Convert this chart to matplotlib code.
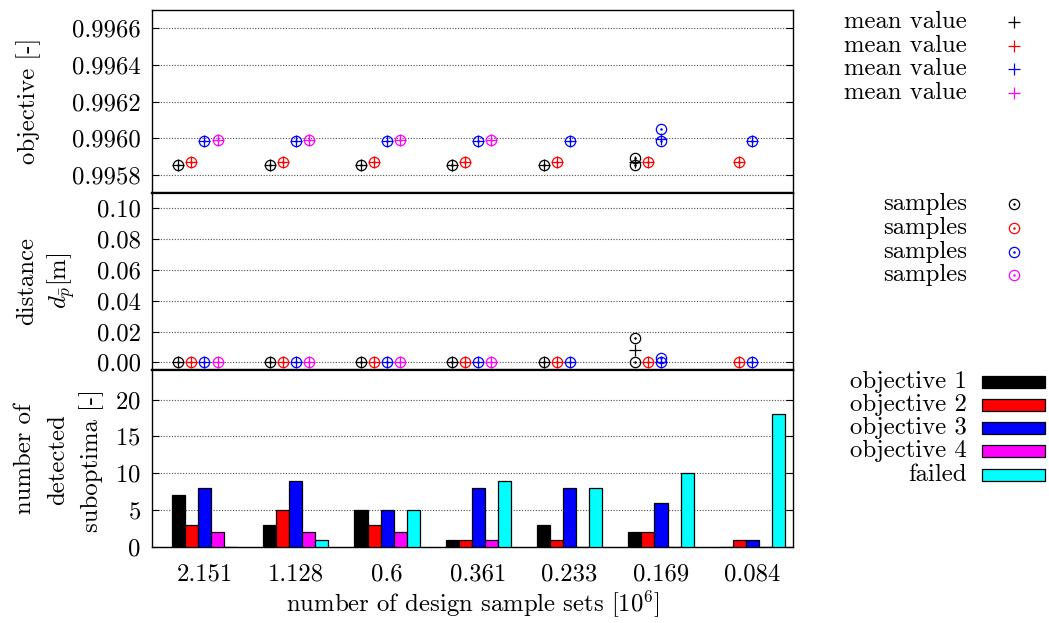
import numpy as np
import matplotlib
matplotlib.use("Agg")
import matplotlib.pyplot as plt
from matplotlib.lines import Line2D
from matplotlib.patches import Rectangle
from matplotlib.ticker import FormatStrFormatter

# ---------------- data ----------------
categories = ["2.151", "1.128", "0.6", "0.361", "0.233", "0.169", "0.084"]
series_names = ["objective 1", "objective 2", "objective 3", "objective 4", "failed"]
colors = ["#000000", "#ff0000", "#0000ff", "#ff00ff", "#00ffff"]

# number of detected suboptima per objective (last entry: failed runs)
count_obj1 = [7, 3, 5, 1, 3, 2, 0]
count_obj2 = [3, 5, 3, 1, 1, 2, 1]
count_obj3 = [8, 9, 5, 8, 8, 6, 1]
count_obj4 = [2, 2, 2, 1, 0, 0, 0]
count_failed = [0, 1, 5, 9, 8, 10, 18]

nan = np.nan
# objective value: mean per sample-set size
objmean_1 = [0.995853, 0.995853, 0.995853, 0.995853, 0.995853, 0.995872, nan]
objmean_2 = [0.995868, 0.995868, 0.995868, 0.995868, 0.995868, 0.995868, 0.995868]
objmean_3 = [0.995983, 0.995983, 0.995983, 0.995983, 0.995983, 0.995993, 0.995983]
objmean_4 = [0.995987, 0.995987, 0.995987, 0.995987, nan, nan, nan]
# objective value: individual samples (distinct values)
objsamp_1 = [[0.995853], [0.995853], [0.995853], [0.995853], [0.995853], [0.995853, 0.995892], []]
objsamp_2 = [[0.995868], [0.995868], [0.995868], [0.995868], [0.995868], [0.995868], [0.995868]]
objsamp_3 = [[0.995983], [0.995983], [0.995983], [0.995983], [0.995983], [0.995983, 0.996052], [0.995983]]
objsamp_4 = [[0.995987], [0.995987], [0.995987], [0.995987], [], [], []]

# distance d_p: mean per sample-set size
distmean_1 = [0.0, 0.0, 0.0, 0.0, 0.0, 0.0080, nan]
distmean_2 = [0.0, 0.0, 0.0, 0.0, 0.0, 0.0, 0.0]
distmean_3 = [0.0, 0.0, 0.0, 0.0, 0.0, 0.0005, 0.0]
distmean_4 = [0.0, 0.0, 0.0, 0.0, nan, nan, nan]
# distance d_p: individual samples (distinct values)
distsamp_1 = [[0.0], [0.0], [0.0], [0.0], [0.0], [0.0, 0.0161], []]
distsamp_2 = [[0.0], [0.0], [0.0], [0.0], [0.0], [0.0], [0.0]]
distsamp_3 = [[0.0], [0.0], [0.0], [0.0], [0.0], [0.0, 0.0025], [0.0]]
distsamp_4 = [[0.0], [0.0], [0.0], [0.0], [], [], []]

# ---------------- style ----------------
plt.rcParams["font.family"] = "cmr10"
plt.rcParams["mathtext.fontset"] = "cm"
plt.rcParams["axes.formatter.use_mathtext"] = True
FS = 17.8

W, H = 1049, 623
fig = plt.figure(figsize=(W / 100, H / 100), dpi=100)


def fx(px):
    return px / W


def fy(py):
    return 1 - py / H


left, right = 152, 793
ax_obj = fig.add_axes([fx(left), fy(193), fx(right - left), (193 - 10) / H])
ax_dist = fig.add_axes([fx(left), fy(370), fx(right - left), (370 - 193) / H])
ax_cnt = fig.add_axes([fx(left), fy(547), fx(right - left), (547 - 370) / H])

n_groups = len(categories)
n_series = 5
slot = 1.0 / (n_series + 2)   # 5 bars + gap of 2 per cluster
group_x = np.arange(n_groups)


def offsets(j):
    return group_x + (j - (n_series - 1) / 2) * slot


MS = 7.4
MEW = 0.9


def draw_points(ax, means, samples):
    for j, (m, s) in enumerate(zip(means, samples)):
        xs = offsets(j)
        sx = [xs[g] for g in range(n_groups) for _ in s[g]]
        sy = [v for g in range(n_groups) for v in s[g]]
        ax.plot(sx, sy, ls="none", marker="o", ms=MS, mfc="none",
                mec=colors[j], mew=MEW, zorder=3)
        ax.plot(sx, sy, ls="none", marker=".", ms=1.6, color=colors[j], zorder=3)
        ax.plot(xs, m, ls="none", marker="+", ms=MS + 0.6, mew=MEW,
                color=colors[j], zorder=4)


draw_points(ax_obj, [objmean_1, objmean_2, objmean_3, objmean_4],
            [objsamp_1, objsamp_2, objsamp_3, objsamp_4])
draw_points(ax_dist, [distmean_1, distmean_2, distmean_3, distmean_4],
            [distsamp_1, distsamp_2, distsamp_3, distsamp_4])

counts = [count_obj1, count_obj2, count_obj3, count_obj4, count_failed]
for j, c in enumerate(counts):
    ax_cnt.bar(offsets(j), c, width=slot, color=colors[j], edgecolor="black",
               linewidth=0.9, zorder=3)

xlim = (-0.575, 6.446)
for ax in (ax_obj, ax_dist, ax_cnt):
    ax.set_xlim(*xlim)
    ax.grid(axis="y", color="0.3", linestyle=(0, (1, 1.5)), linewidth=0.8, zorder=0)
    ax.set_axisbelow(True)
    ax.tick_params(axis="y", which="both", direction="in", length=5, width=0.8,
                   right=True, labelsize=FS, pad=8)
    ax.tick_params(axis="x", length=0, labelsize=FS)
    for sp in ax.spines.values():
        sp.set_linewidth(1.0)

ax_obj.set_ylim(0.9957, 0.9967)
ax_obj.set_yticks([0.9958, 0.9960, 0.9962, 0.9964, 0.9966])
ax_obj.yaxis.set_major_formatter(FormatStrFormatter("%.4f"))

ax_dist.set_ylim(-0.005, 0.11)
ax_dist.set_yticks([0.0, 0.02, 0.04, 0.06, 0.08, 0.10])
ax_dist.yaxis.set_major_formatter(FormatStrFormatter("%.2f"))

ax_cnt.set_ylim(0, 24)
ax_cnt.set_yticks([0, 5, 10, 15, 20])

ax_obj.set_xticks([])
ax_dist.set_xticks([])
ax_cnt.set_xticks(group_x)
ax_cnt.set_xticklabels(categories)
ax_cnt.tick_params(axis="x", pad=12)
ax_cnt.set_xlabel(r"number of design sample sets [$10^6$]", fontsize=FS, labelpad=2)

# panel separators are drawn a little heavier
ax_obj.spines["bottom"].set_linewidth(1.6)
ax_dist.spines["top"].set_linewidth(1.6)
ax_dist.spines["bottom"].set_linewidth(1.6)
ax_cnt.spines["top"].set_linewidth(1.6)

# y-axis labels (one text per line, centred on each panel)
fig.text(fx(29), fy(101), "objective [-]", rotation=90, ha="center", va="center", fontsize=FS)
fig.text(fx(27), fy(281), "distance", rotation=90, ha="center", va="center", fontsize=FS)
fig.text(fx(61), fy(281), r"$d_{\bar{p}}$[m]", rotation=90, ha="center", va="center", fontsize=FS)
fig.text(fx(25), fy(459), "number of", rotation=90, ha="center", va="center", fontsize=FS)
fig.text(fx(58), fy(460), "detected", rotation=90, ha="center", va="center", fontsize=FS)
fig.text(fx(92), fy(461), "suboptima [-]", rotation=90, ha="center", va="center", fontsize=FS)

# ---------------- keys ----------------
text_right = 967
mean_rows = [22, 46, 69, 93]
samp_rows = [204, 228, 252, 275]
bar_rows = [382, 405, 428, 451, 475]

for j, y in enumerate(mean_rows):
    fig.text(fx(text_right), fy(y), "mean value", ha="right", va="center", fontsize=FS)
    fig.add_artist(Line2D([fx(1014)], [fy(y)], ls="none", marker="+", ms=8.5,
                          mew=MEW, color=colors[j]))
for j, y in enumerate(samp_rows):
    fig.text(fx(text_right), fy(y), "samples", ha="right", va="center", fontsize=FS)
    fig.add_artist(Line2D([fx(1014)], [fy(y)], ls="none", marker="o", ms=MS,
                          mfc="none", mec=colors[j], mew=MEW))
    fig.add_artist(Line2D([fx(1014)], [fy(y)], ls="none", marker=".", ms=1.6,
                          color=colors[j]))
for j, y in enumerate(bar_rows):
    fig.text(fx(text_right), fy(y), series_names[j], ha="right", va="center", fontsize=FS)
    fig.add_artist(Rectangle((fx(982), fy(y + 6)), fx(63), 12 / H, facecolor=colors[j],
                             edgecolor="black", linewidth=0.9))

fig.savefig("out.png", dpi=100)
